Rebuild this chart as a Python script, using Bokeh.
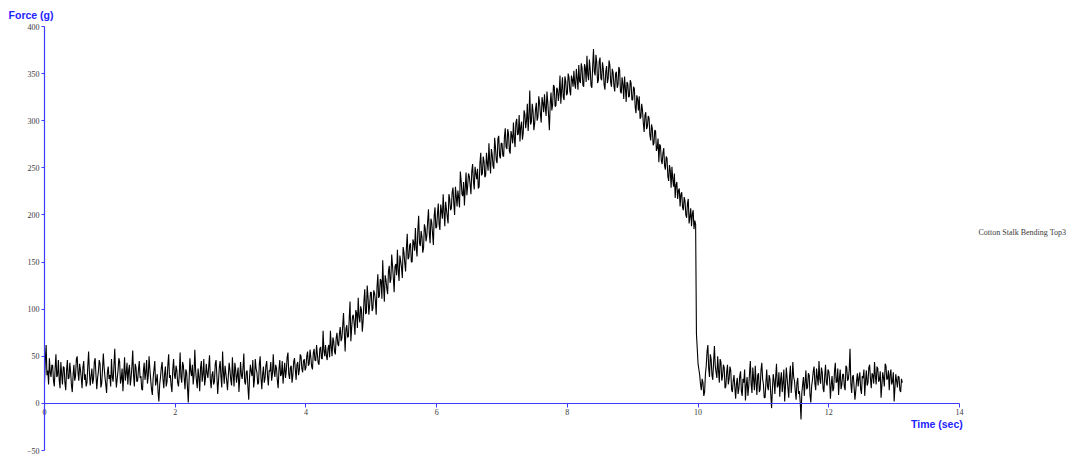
import numpy as np
from bokeh.plotting import figure
from bokeh.models import FixedTicker, Label
from bokeh.embed import file_html
from bokeh.resources import INLINE

# ---------------- data ----------------
sample_step_sec = 0.0125
x_ticks = [0, 2, 4, 6, 8, 10, 12, 14]
y_ticks = [-50, 0, 50, 100, 150, 200, 250, 300, 350, 400]
series_name = "Cotton Stalk Bending Top3"

# baseline before loading (0 - 4.2875 s)
force_pre = [
    22, 45, 62, 30, 35, 20, 48, 33, 28, 41, 40, 24, 18, 37, 52, 28, 30, 46, 25, 16,
    44, 31, 20, 39, 38, 22, 14, 35, 46, 26, 27, 43, 33, 19, 12, 30, 41, 24, 29, 47,
    50, 33, 24, 42, 36, 27, 16, 38, 45, 25, 31, 18, 22, 40, 55, 32, 19, 29, 37, 21,
    26, 44, 48, 30, 15, 27, 34, 46, 42, 17, 21, 36, 53, 38, 28, 20, 11, 33, 39, 26,
    30, 18, 47, 28, 23, 40, 58, 31, 17, 26, 35, 48, 44, 21, 26, 37, 13, 30, 49, 24,
    32, 43, 20, 35, 41, 19, 27, 39, 56, 30, 18, 42, 38, 23, 24, 36, 45, 27, 29, 15,
    14, 34, 43, 25, 33, 46, 21, 29, 50, 36, 25, 15, 9, 27, 36, 45, 19, 24, 31, 12,
    2, 20, 28, 38, 44, 26, 16, 31, 39, 18, 23, 41, 52, 27, 30, 19, 12, 36, 47, 30,
    26, 40, 35, 22, 18, 31, 54, 28, 22, 44, 40, 27, 15, 36, 33, 17, 1, 25, 48, 34,
    29, 41, 20, 30, 57, 35, 24, 16, 37, 28, 13, 38, 45, 23, 31, 47, 19, 26, 42, 32,
    27, 39, 51, 25, 16, 30, 34, 20, 23, 42, 46, 29, 10, 24, 38, 45, 28, 17, 55, 33,
    21, 40, 32, 24, 14, 29, 43, 35, 25, 19, 49, 31, 18, 43, 36, 22, 30, 38, 12, 27,
    44, 30, 26, 38, 53, 23, 20, 33, 35, 17, 4, 28, 41, 34, 29, 46, 17, 25, 47, 37,
    33, 20, 22, 42, 50, 27, 15, 31, 39, 22, 27, 40, 45, 29, 19, 35, 34, 44, 24, 31,
    52, 34, 28, 41, 37, 24, 16, 36, 46, 29, 31, 45, 21, 33, 43, 27, 35, 49, 54, 31,
    26, 38, 40, 22, 30, 44, 48, 36, 25, 41, 44, 30, 36, 52, 50, 37, 33, 45, 47, 35,
    38, 50, 55, 40, 42, 57, 49, 39, 36, 53, 58, 46, 45, 62, 52, 43, 41, 58, 60, 48,
    47, 77, 56, 50,
]

# loading / bending (4.3 - 9.9625 s)
force_load = [
    62, 51, 46, 58, 62, 49, 77, 60, 50, 70, 66, 55, 52, 69, 75, 63,
    61, 74, 81, 66, 69, 82, 96, 75, 55, 79, 83, 70, 71, 90, 108, 66, 80, 92, 94, 85,
    73, 99, 96, 80, 112, 92, 86, 103, 99, 76, 87, 108, 121, 95, 96, 125, 113, 94, 104, 118,
    118, 98, 101, 120, 117, 109, 94, 123, 137, 112, 114, 132, 130, 111, 152, 125, 108, 136, 131, 122,
    116, 140, 146, 128, 132, 158, 146, 133, 118, 145, 148, 136, 163, 141, 130, 157, 151, 144, 133, 166,
    160, 149, 140, 165, 180, 153, 155, 168, 170, 150, 150, 174, 170, 162, 186, 165, 156, 184, 199, 170,
    167, 183, 177, 160, 165, 190, 186, 172, 178, 193, 206, 181, 170, 196, 192, 180, 168, 199, 208, 186,
    187, 201, 212, 190, 184, 211, 204, 196, 222, 203, 188, 214, 206, 198, 191, 222, 217, 205, 207, 224,
    229, 212, 200, 230, 220, 209, 226, 218, 208, 246, 236, 222, 220, 235, 210, 228, 245, 221, 231, 244,
    241, 232, 222, 246, 254, 236, 227, 251, 244, 238, 249, 228, 230, 255, 266, 242, 244, 262, 257, 240,
    242, 266, 255, 247, 276, 256, 244, 270, 264, 252, 249, 282, 272, 258, 255, 281, 284, 263, 260, 276,
    276, 263, 262, 283, 292, 272, 270, 291, 286, 268, 265, 289, 284, 276, 298, 281, 272, 298, 302, 285,
    286, 306, 278, 294, 299, 280, 287, 311, 307, 292, 300, 318, 289, 305, 332, 296, 299, 318, 310, 290,
    297, 312, 319, 300, 304, 326, 319, 307, 298, 325, 319, 309, 328, 314, 305, 331, 320, 306, 290, 318,
    330, 311, 317, 338, 336, 315, 316, 335, 333, 321, 330, 348, 318, 333, 346, 325, 322, 347, 342, 327,
    329, 350, 346, 332, 327, 348, 344, 336, 353, 339, 334, 355, 345, 333, 359, 342, 340, 361, 356, 338,
    336, 360, 356, 341, 369, 349, 343, 365, 354, 337, 335, 358, 376, 352, 348, 370, 362, 340, 343, 363,
    367, 345, 343, 362, 355, 338, 333, 352, 358, 340, 345, 364, 359, 341, 336, 355, 351, 337, 331, 350,
    352, 335, 338, 357, 354, 331, 329, 346, 339, 323, 347, 335, 320, 341, 339, 325, 326, 343, 340, 322,
    322, 336, 334, 315, 308, 327, 323, 311, 326, 302, 304, 318, 311, 297, 288, 306, 309, 291, 294, 305,
    303, 285, 279, 296, 292, 274, 276, 290, 289, 268, 271, 281, 256, 275, 273, 258, 254, 266, 271, 252,
    248, 262, 260, 241, 236, 253, 247, 229, 251, 238, 230, 244, 218, 232, 235, 217, 226, 228, 209, 222,
    224, 208, 205, 219, 215, 200, 197, 212, 217, 191, 198, 207, 188, 201, 205, 185, 194, 190,
]

# after failure (9.975 - 13.125 s)
force_post = [
    74, 58, 42, 36, 30, 20, 14, 26, 22, 8, 12, 31, 40, 55, 62, 37, 28, 52, 47, 30,
    25, 44, 61, 40, 33, 27, 50, 35, 22, 47, 44, 24, 29, 41, 38, 16, 18, 33, 41, 20,
    26, 39, 35, 15,
    12, 24, 30, 17, 5, 21, 27, 10, 16, 29, 34, 13, 8, 26, 22, 36, 3, 19, 28, 8,
    18, 32, 45, 20, 11, 38, 25, 14, 40, 23, 9, 30, 32, 12, 15, 35, 43, 26, 20, 6,
    6, 21, 36, 18, 14, 30, 26, 9, -5, 15, 31, 24, 10, 28, 42, 17, 19, 33, 7, 25,
    33, 12, 22, 36, 2, 18, 38, 27, 16, 6, 29, 40, 11, 23, 44, 28, 24, 13, 4, 22,
    27, 10, 13, 2, -17, 11, 20, 28, 8, 22, 35, 15, 17, 32, 30, 9, 1, 18, 25, 34,
    39, 21, 14, 37, 28, 19, 45, 26, 21, 38, 33, 16, 12, 29, 41, 22, 19, 36, 34, 25,
    5, 20, 29, 13, 16, 34, 43, 22, 23, 37, 9, 26, 36, 15, 20, 31, 31, 18, 14, 40,
    38, 24, 26, 35, 58, 21, 11, 28, 30, 17, 4, 13, 24, 32, 18, 27, 33, 15, 10, 29,
    27, 36, 8, 24, 35, 19, 22, 38, 41, 26, 16, 32, 30, 21, 44, 29, 20, 39, 37, 23,
    25, 34, 6, 19, 33, 27, 18, 42, 40, 25, 27, 35, 14, 30, 36, 20, 23, 33, 2, 17,
    31, 24, 17, 29, 28, 14, 12, 26, 22,
]

force = force_pre + force_load + force_post
time_sec = np.arange(len(force)) * sample_step_sec

# ---------------- figure ----------------
AXIS_BLUE = "#3c3cff"
TITLE_BLUE = "#2323ff"
TEXT_GREY = "#3a3a3a"

# frame covers the whole canvas; axes are pinned at 0 and bounded
PX_PER_SEC = 915 / 14
PX_PER_G = 424 / 450
x_lo, x_hi = -44 / PX_PER_SEC, (1072 - 44) / PX_PER_SEC
y_lo, y_hi = -50 - 5 / PX_PER_G, 400 + 26 / PX_PER_G

p = figure(width=1072, height=455, x_range=(x_lo, x_hi), y_range=(y_lo, y_hi),
           output_backend="svg", toolbar_location=None,
           min_border_left=0, min_border_right=0,
           min_border_top=0, min_border_bottom=0)
p.outline_line_color = None
p.grid.visible = False
p.background_fill_color = "white"
p.border_fill_color = "white"

p.line(time_sec, force, line_color="black", line_width=1.1)

xa = p.xaxis[0]
xa.fixed_location = 0
xa.bounds = (0, 14)
xa.ticker = FixedTicker(ticks=x_ticks)
xa.axis_line_color = AXIS_BLUE
xa.axis_line_width = 1.2
xa.major_tick_line_color = AXIS_BLUE
xa.minor_tick_line_color = None
xa.major_tick_out = 4
xa.major_tick_in = 0
xa.major_label_standoff = 2
xa.major_label_text_font = "Liberation Serif"
xa.major_label_text_font_size = "8px"
xa.major_label_text_color = TEXT_GREY

ya = p.yaxis[0]
ya.fixed_location = 0
ya.bounds = (-50, 400)
ya.ticker = FixedTicker(ticks=y_ticks)
ya.axis_line_color = AXIS_BLUE
ya.axis_line_width = 1.2
ya.major_tick_line_color = AXIS_BLUE
ya.minor_tick_line_color = None
ya.major_tick_out = 3
ya.major_tick_in = 0
ya.major_label_standoff = 2
ya.major_label_text_font = "Liberation Serif"
ya.major_label_text_font_size = "8px"
ya.major_label_text_color = TEXT_GREY

p.add_layout(Label(x=-0.55, y=411.8, text="Force (g)", text_font="Liberation Sans",
                   text_font_style="bold", text_font_size="10.5px", text_color=TITLE_BLUE,
                   text_align="left", text_baseline="middle"))
p.add_layout(Label(x=14.05, y=-22.3, text="Time (sec)", text_font="Liberation Sans",
                   text_font_style="bold", text_font_size="10.5px", text_color=TITLE_BLUE,
                   text_align="right", text_baseline="middle"))
p.add_layout(Label(x=14.29, y=181.5, text=series_name, text_font="Liberation Serif",
                   text_font_size="8px", text_color=TEXT_GREY,
                   text_align="left", text_baseline="middle"))

open("out.html", "w").write(file_html(p, INLINE))
